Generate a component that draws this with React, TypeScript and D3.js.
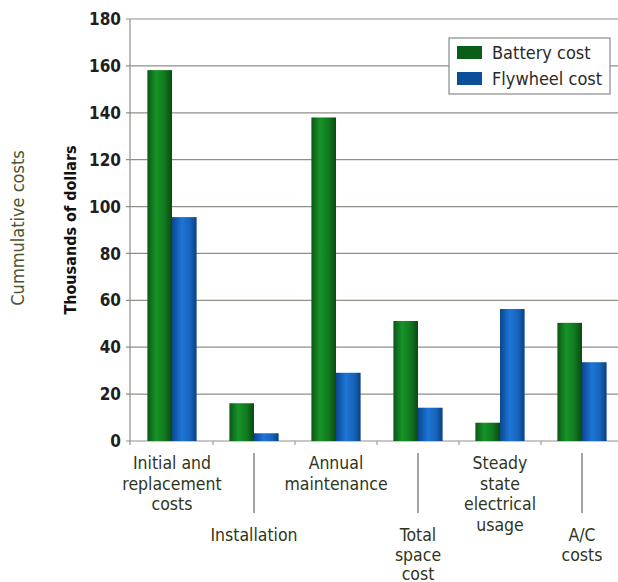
import React from "react";
import * as d3 from "d3";

const categories = [
  "Initial and replacement costs",
  "Installation",
  "Annual maintenance",
  "Total space cost",
  "Steady state electrical usage",
  "A/C costs",
];
const categoryLines = [
  ["Initial and", "replacement", "costs"],
  ["Installation"],
  ["Annual", "maintenance"],
  ["Total", "space", "cost"],
  ["Steady", "state", "electrical", "usage"],
  ["A/C", "costs"],
];
const seriesNames = ["Battery cost", "Flywheel cost"];
const batteryCost = [158.2, 16.1, 138, 51.2, 7.8, 50.4];
const flywheelCost = [95.5, 3.3, 29.1, 14.2, 56.3, 33.6];
const yTicks = [0, 20, 40, 60, 80, 100, 120, 140, 160, 180];
const yTickLabels = ["0", "20", "40", "60", "80", "100", "120", "140", "160", "180"];

const W = 618;
const H = 582;
const FONT = "'DejaVu Sans Condensed', 'Liberation Sans Narrow', 'Arial Narrow', sans-serif";

export default function App() {
  const y = d3.scaleLinear().domain([0, 180]).range([441, 19]);
  const x = d3
    .scaleBand<string>()
    .domain(categories)
    .range([131, 623])
    .paddingInner(0.4)
    .paddingOuter(0.2);
  const xs = d3.scaleBand<string>().domain(seriesNames).range([0, x.bandwidth()]);
  const step = x.step();
  const bandStart = (i: number) => 131 + i * step;
  const seriesData = [batteryCost, flywheelCost];
  const fills = ["url(#gGreen)", "url(#gBlue)"];
  const labelColor = "#2f3520";

  return (
    <svg
      width={W}
      height={H}
      style={{ position: "absolute", left: 0, top: 0, background: "#fff" }}
      fontFamily={FONT}
    >
      <defs>
        <linearGradient id="gGreen" x1="0" x2="1" y1="0" y2="0">
          <stop offset="0" stopColor="#0c5614" />
          <stop offset="0.35" stopColor="#169428" />
          <stop offset="0.7" stopColor="#11781f" />
          <stop offset="1" stopColor="#0a4a12" />
        </linearGradient>
        <linearGradient id="gBlue" x1="0" x2="1" y1="0" y2="0">
          <stop offset="0" stopColor="#0b4690" />
          <stop offset="0.4" stopColor="#1d76d6" />
          <stop offset="0.75" stopColor="#1762b8" />
          <stop offset="1" stopColor="#0a3f82" />
        </linearGradient>
      </defs>

      {/* gridlines */}
      {yTicks.map((t) => (
        <line key={"g" + t} x1={126} x2={W} y1={y(t)} y2={y(t)} stroke="#8f8f88" strokeWidth={1.2} />
      ))}
      {/* y axis */}
      <line x1={130} x2={130} y1={y(180)} y2={y(0) + 4} stroke="#8f8f88" strokeWidth={1.2} />
      {yTicks.map((t, i) => (
        <text
          key={"t" + t}
          x={121}
          y={y(t)}
          dy="0.36em"
          textAnchor="end"
          fontSize={17}
          fontWeight="bold"
          fill="#1e1e1e"
        >
          {yTickLabels[i]}
        </text>
      ))}
      {/* x tick marks */}
      {categories.map((c, i) =>
        i === 0 ? null : (
          <line key={"xt" + i} x1={bandStart(i)} x2={bandStart(i)} y1={y(0)} y2={y(0) + 4} stroke="#8f8f88" />
        )
      )}

      {/* bars */}
      {seriesData.map((vals, si) =>
        categories.map((c, i) => (
          <rect
            key={si + "-" + i}
            x={(x(c) as number) + (xs(seriesNames[si]) as number)}
            y={y(vals[i])}
            width={xs.bandwidth()}
            height={y(0) - y(vals[i])}
            fill={fills[si]}
          />
        ))
      )}

      {/* category labels */}
      {categories.map((c, i) => {
        const cx = (x(c) as number) + x.bandwidth() / 2;
        const lower = i % 2 === 1;
        const y0 = lower ? 541 : 469;
        const lh = lower ? 19.5 : 20.5;
        return (
          <g key={"cl" + i}>
            {lower && <line x1={cx} x2={cx} y1={453} y2={513} stroke="#6a6a60" strokeWidth={1.2} />}
            <text textAnchor="middle" fontSize={17.5} fill={labelColor}>
              {categoryLines[i].map((ln, k) => (
                <tspan key={k} x={cx} y={y0 + k * lh}>
                  {ln}
                </tspan>
              ))}
            </text>
          </g>
        );
      })}

      {/* legend */}
      <rect x={449} y={38} width={161} height={56} fill="#fff" stroke="#8a8a8a" strokeWidth={1.2} />
      {seriesNames.map((s, si) => (
        <g key={"lg" + s}>
          <rect x={457} y={46 + si * 26} width={25} height={13} fill={si === 0 ? "#0b5e18" : "#0b4f9a"} />
          <text x={492} y={59 + si * 26} fontSize={18} fill="#2a2a2a">
            {s}
          </text>
        </g>
      ))}

      {/* axis titles */}
      <text
        transform="translate(76,230) rotate(-90)"
        textAnchor="middle"
        fontSize={16}
        fontWeight="bold"
        fill="#111"
      >
        Thousands of dollars
      </text>
      <text
        transform="translate(24,228) rotate(-90)"
        textAnchor="middle"
        fontSize={18}
        fill="#4a5630"
      >
        Cummulative costs
      </text>
    </svg>
  );
}
